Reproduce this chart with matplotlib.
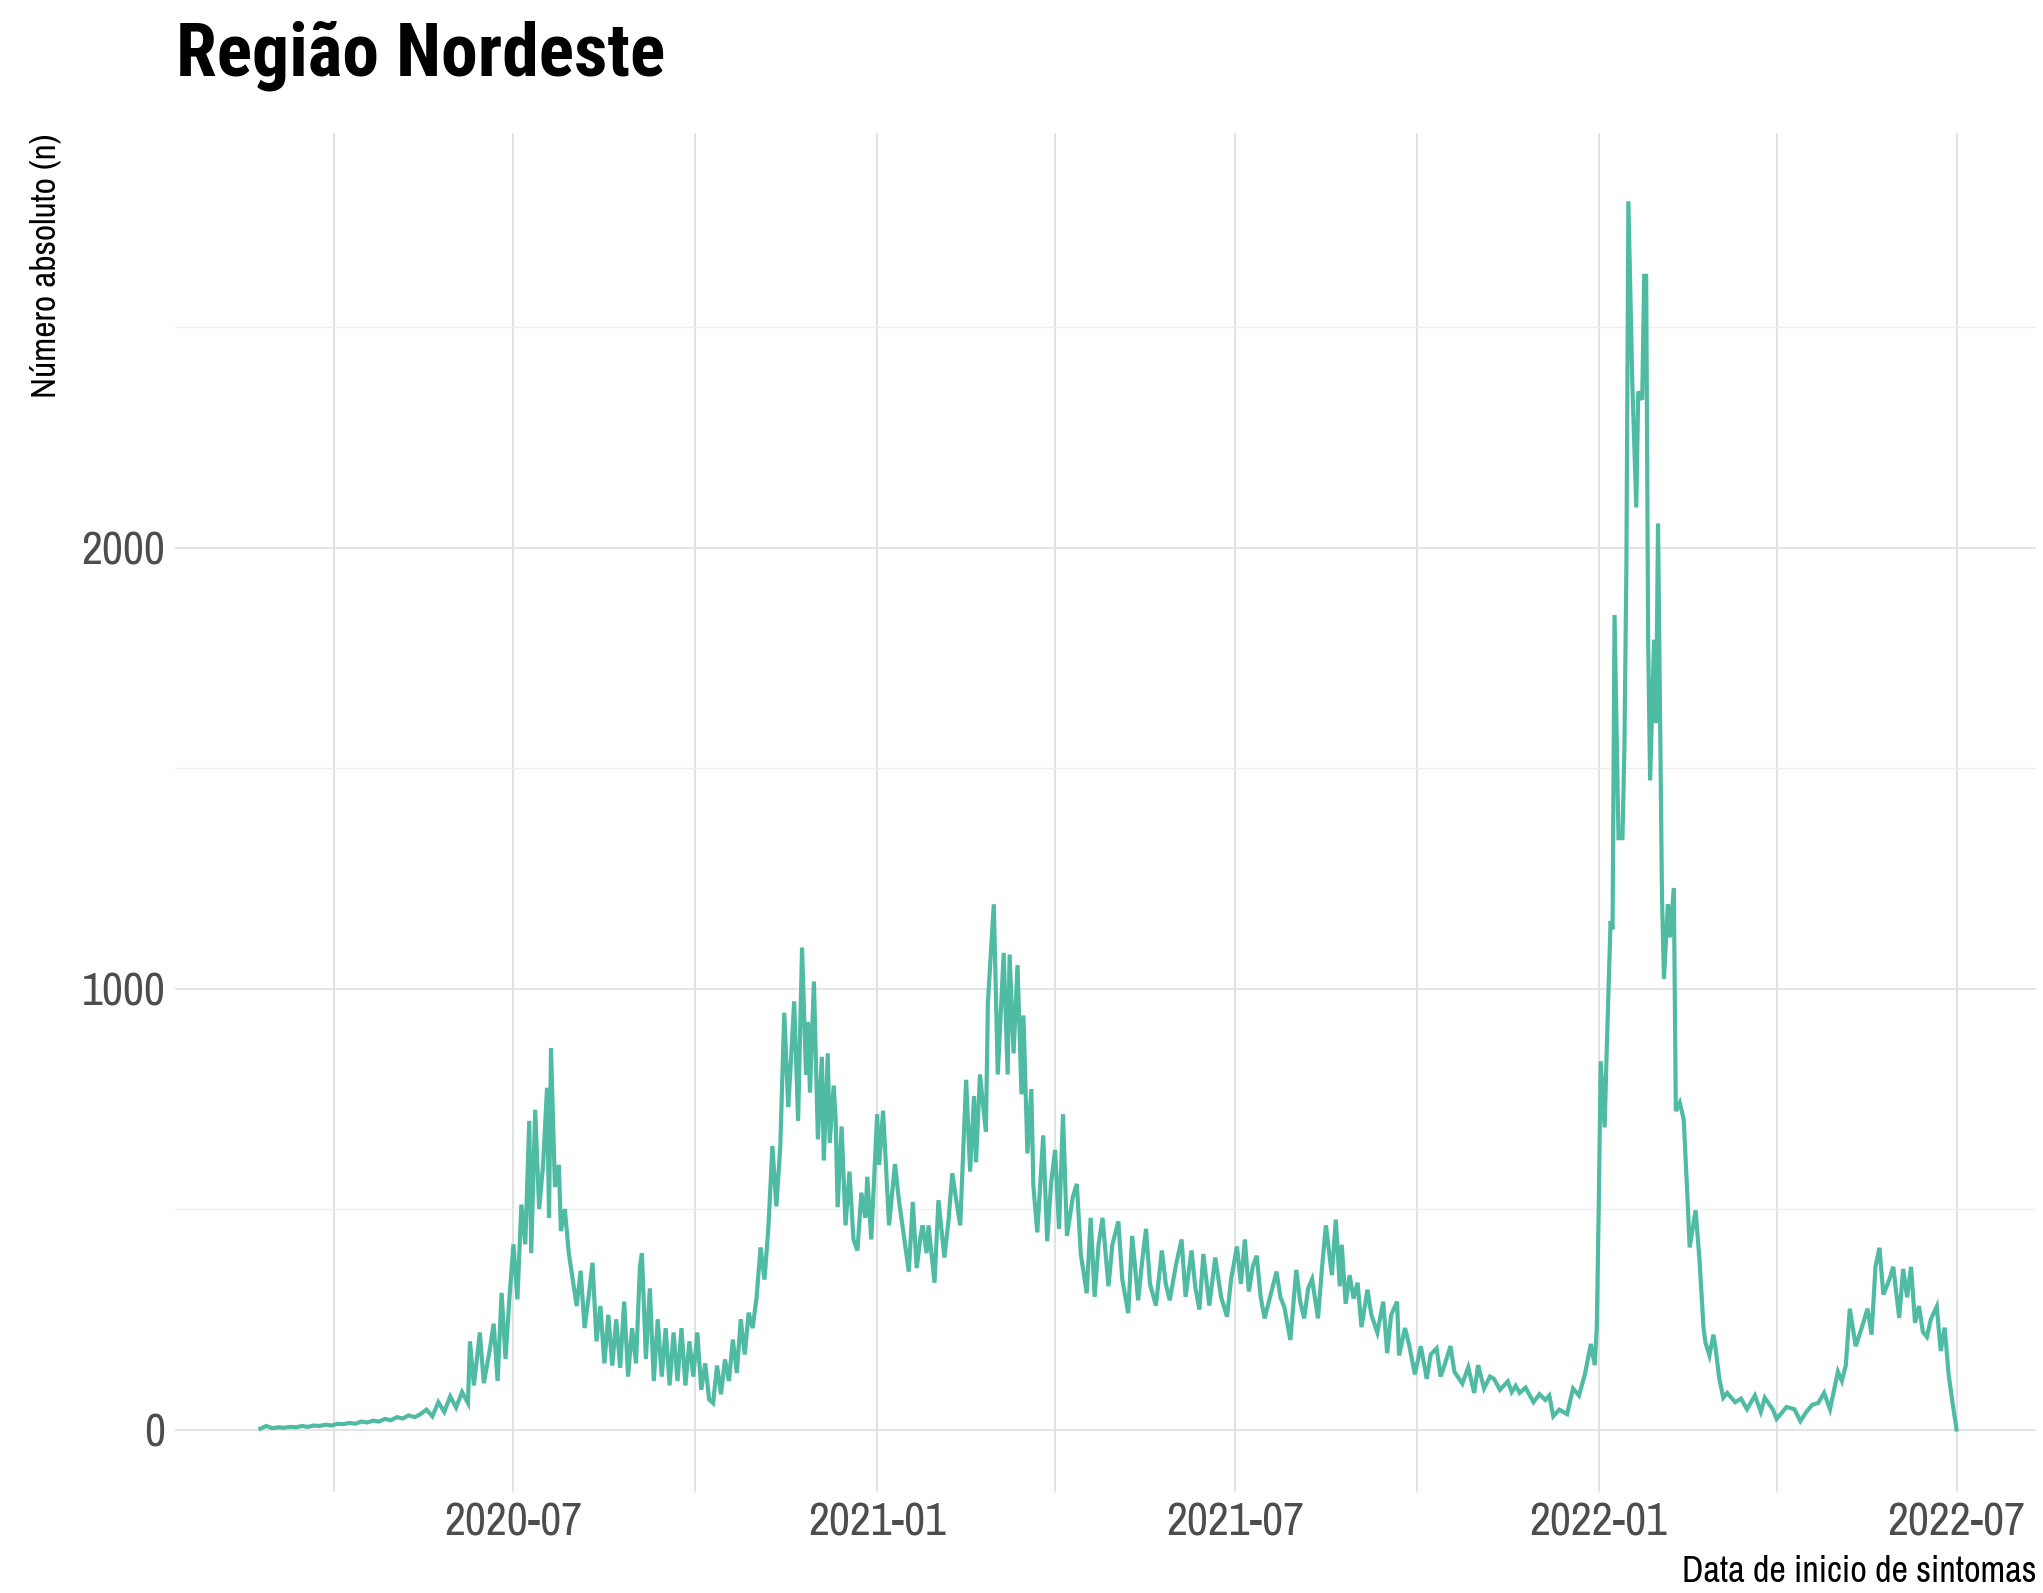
import numpy as np
import pandas as pd
import matplotlib
matplotlib.use("Agg")
import matplotlib.pyplot as plt
import matplotlib.dates as mdates
from matplotlib.ticker import FixedLocator

# dias contados a partir de 2020-07-01 e casos diarios
base = pd.Timestamp("2020-07-01")

dias_2020 = [-128, -125, -122, -119, -116, -113, -110, -107, -104, -101, -98, -95, -92, -89, -86,
             -83, -80, -77, -74, -71, -68, -65, -62, -59, -56, -53, -50,
             -47, -44, -41, -38, -35, -32, -29, -26, -23,
             -22, -20, -17, -15, -12, -10, -8, -6, -4, -2, 0,
             2, 4, 6, 8, 9, 11, 13, 15, 17, 18, 19, 21, 23, 24, 26, 28, 30, 32, 34, 36, 38, 40,
             42, 44, 46, 48, 50, 52, 54, 56, 58, 60, 62, 64, 65, 67, 69, 71, 73, 75, 77, 79, 81,
             83, 85, 87, 89, 91, 93, 95, 97, 99, 101, 103, 105, 107, 109, 111, 113, 115, 117, 119,
             121, 123, 125, 127, 129, 131, 133, 135, 137, 139, 140, 142, 144, 146, 148, 149, 150,
             152, 154, 156, 157, 159, 160, 162, 163, 164, 166, 168, 170, 172, 174, 176, 178, 179, 181]
casos_2020 = [2, 8, 3, 5, 4, 6, 5, 8, 6, 9, 8, 11, 9, 13, 12,
              15, 13, 18, 16, 20, 18, 24, 21, 28, 25, 32, 28,
              35, 45, 30, 62, 40, 75, 50, 85, 60,
              200, 100, 220, 105, 180, 240, 110, 310, 160, 300, 420,
              295, 510, 420, 700, 400, 725, 500, 600, 775, 480, 865, 550, 600, 450, 500, 400, 340, 280, 360, 230, 300, 378,
              200, 280, 150, 260, 145, 250, 140, 290, 120, 230, 150, 370, 400, 160, 320, 110, 250, 120, 230, 100, 220,
              110, 230, 100, 200, 120, 220, 90, 150, 68, 60, 145, 80, 159, 110, 204, 128, 250, 170, 265,
              230, 300, 413, 340, 460, 643, 506, 643, 945, 732, 805, 971, 700, 1093, 805, 923, 764,
              1016, 658, 845, 610, 853, 650, 780, 703, 504, 687, 463, 585, 431, 406, 537, 480, 573, 431]

dias_2021 = [184, 185, 187, 190, 193, 195, 197, 200, 202, 204, 206, 207, 209, 210, 213, 215, 218, 220,
             222, 224, 226, 229, 231, 233, 234, 236, 239, 240, 243, 245, 248, 250, 251, 253, 255, 257,
             258, 260, 262, 263, 265, 268, 270, 272, 274, 276, 278, 280, 283, 285, 287, 290, 292, 294,
             296, 298, 301, 303, 306, 308, 311, 313, 316, 318, 320, 322, 325, 328, 330, 332, 335, 338,
             340, 343, 345, 347, 349, 352, 355, 358, 361, 363, 366, 368, 370, 372, 374, 376, 378, 380,
             383, 386, 388, 390, 393, 396, 398, 400, 402, 404, 407, 409, 411, 414, 416, 418, 419, 421,
             423, 425, 427, 429, 432, 434, 437, 440, 442, 444, 447, 448, 451, 453, 456, 459, 462, 464,
             467, 469, 471, 474, 476, 480, 483, 486, 488, 491, 494, 496, 499, 503, 505, 507, 509, 512,
             516, 519, 522, 524, 526, 529, 533, 536, 539, 542, 545, 547, 548]
casos_2021 = [715, 600, 723, 463, 602, 520, 455, 358, 516, 366, 440, 463, 400, 463, 333, 520, 390, 470,
              581, 520, 463, 793, 585, 756, 606, 805, 675, 967, 1191, 805, 1081, 805, 1077, 853, 1053, 760,
              939, 626, 772, 553, 447, 667, 427, 560, 634, 455, 715, 439, 528, 557, 398, 309, 480, 301,
              420, 480, 325, 420, 472, 340, 264, 439, 293, 380, 455, 330, 281, 406, 330, 293, 370, 431,
              301, 406, 320, 272, 398, 281, 390, 300, 256, 340, 415, 330, 431, 313, 370, 394, 300, 252,
              305, 358, 300, 277, 203, 362, 290, 252, 320, 341, 252, 366, 463, 350, 476, 325, 419, 285,
              350, 297, 333, 232, 317, 260, 220, 290, 173, 260, 290, 168, 230, 194, 125, 189, 115, 170,
              184, 120, 146, 189, 131, 104, 141, 83, 146, 93, 120, 115, 90, 109, 85, 99, 83, 95,
              62, 80, 67, 77, 30, 45, 35, 93, 77, 125, 194, 146, 231]

dias_2022 = [549, 550, 552, 553, 555, 556, 557, 559, 561, 562, 563, 564, 566, 568, 569, 571, 572, 573,
             574, 575, 577, 578, 579, 581, 582, 584, 585, 587, 588, 590, 592, 594, 595, 598, 600, 602,
             603, 605, 607, 608, 610, 612, 614, 618, 621, 624, 628, 631, 633, 637, 639, 644, 648, 651,
             654, 657, 660, 663, 666, 670, 672, 674, 676, 679, 682, 685, 687, 689, 691, 693, 696, 698,
             701, 703, 705, 707, 709, 711, 713, 715, 717, 720, 722, 724, 726, 728, 730]
casos_2022 = [502, 835, 685, 853, 1153, 1134, 1847, 1341, 1341, 1547, 1960, 2785, 2372, 2091, 2354, 2335, 2616, 2616,
              1791, 1472, 1791, 1603, 2054, 1210, 1022, 1191, 1116, 1228, 722, 741, 703, 516, 413, 497, 384, 231,
              197, 168, 215, 188, 115, 72, 83, 62, 70, 46, 77, 40, 72, 46, 24, 51, 46, 19,
              40, 56, 60, 83, 46, 131, 110, 146, 274, 189, 230, 274, 215, 369, 412, 306, 340, 369,
              253, 364, 300, 369, 242, 280, 221, 210, 250, 279, 178, 231, 125, 60, 0]

dias = dias_2020 + dias_2021 + dias_2022
casos = casos_2020 + casos_2021 + casos_2022
datas = base + pd.to_timedelta(dias, unit="D")

narrow = ["Archivo Narrow", "DejaVu Sans"]
narrow_bold = ["Roboto Condensed", "Barlow Semi Condensed", "DejaVu Sans"]
cor_linha = "#50BBA3"

fig = plt.figure(figsize=(20.43, 15.93), dpi=100)
ax = fig.add_axes([175 / 2043, 1 - 1492 / 1593, (2036 - 175) / 2043, (1492 - 133) / 1593])

ax.plot(datas, casos, color=cor_linha, lw=3.0, solid_joinstyle="miter")

ax.set_xlim(base - pd.Timedelta(days=171.2), base + pd.Timedelta(days=770.2))
ax.set_ylim(-141.7, 2940)

ax.xaxis.set_major_locator(mdates.MonthLocator(bymonth=[1, 7]))
ax.xaxis.set_minor_locator(mdates.MonthLocator(bymonth=[4, 10]))
ax.xaxis.set_major_formatter(mdates.DateFormatter("%Y-%m"))
ax.yaxis.set_major_locator(FixedLocator([0, 1000, 2000]))
ax.yaxis.set_minor_locator(FixedLocator([500, 1500, 2500]))

ax.grid(which="major", axis="y", color="#E2E2E2", lw=1.3)
ax.grid(which="minor", axis="y", color="#EEEEEE", lw=1.0)
ax.grid(which="both", axis="x", color="#DFDFDF", lw=1.3)
ax.set_axisbelow(True)

for s in ax.spines.values():
    s.set_visible(False)
ax.tick_params(which="both", length=0)
ax.tick_params(axis="x", pad=7, labelsize=33, labelcolor="#4D4D4D")
ax.tick_params(axis="y", pad=7, labelsize=33, labelcolor="#4D4D4D")
for lab in ax.get_xticklabels() + ax.get_yticklabels():
    lab.set_family(narrow)

fig.text(176 / 2043, 1 - 75 / 1593, "Região Nordeste", family=narrow_bold, fontweight="bold",
         fontsize=53, ha="left", va="baseline", color="black")
fig.text(46 / 2043, 1 - 133 / 1593, "Número absoluto (n)", family=narrow, fontsize=25.5,
         rotation=90, ha="center", va="top", color="black")
fig.text(2037 / 2043, 1 - 1582 / 1593, "Data de inicio de sintomas", family=narrow, fontsize=26,
         ha="right", va="baseline", color="black")

fig.savefig("out.png", dpi=100, facecolor="white")
